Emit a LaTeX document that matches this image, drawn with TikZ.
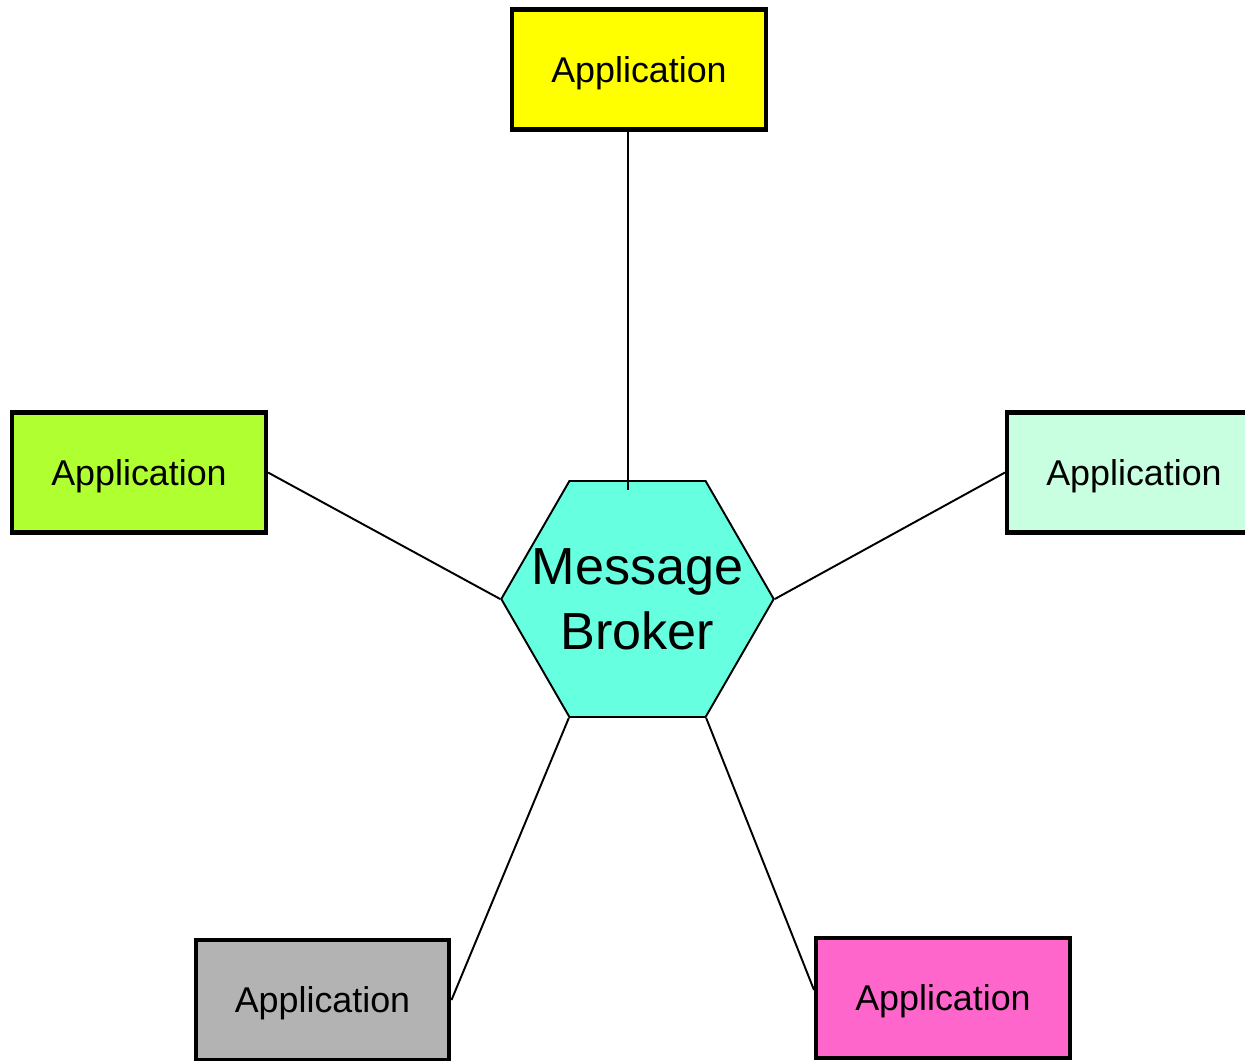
\documentclass[tikz,border=0pt]{standalone}
\usepackage{fontspec}
\setmainfont{Liberation Sans}
\usetikzlibrary{shapes.geometric}
\definecolor{appyellow}{HTML}{FFFF00}
\definecolor{appgreen}{HTML}{B0FF30}
\definecolor{appmint}{HTML}{C8FFE0}
\definecolor{appgray}{HTML}{B3B3B3}
\definecolor{apppink}{HTML}{FF66CC}
\definecolor{brokeraqua}{HTML}{66FFE0}
\begin{document}
\begin{tikzpicture}[
    x=0.02cm, y=-0.02cm,
    app/.style={rectangle, draw=black, line width=2.3pt, minimum width=5.08cm, minimum height=2.40cm, inner sep=0pt, text depth=0pt, font=\fontsize{20.4}{24}\selectfont},
    broker/.style={regular polygon, regular polygon sides=6, draw=black, line width=1.1pt, fill=brokeraqua, minimum size=5.45cm, inner sep=0pt},
    brokertext/.style={align=center, inner sep=0pt, font=\fontsize{29.7}{37}\selectfont},
    link/.style={draw=black, line width=1.1pt}
]
    \useasboundingbox (0,0) rectangle (1245,1061);

    % Broker
    \node[broker, label={[brokertext]center:Message\\Broker}] (hub) at (637.5,599) {};

    % Applications
    \node[app, fill=appyellow] (top) at (639,69.5) {Application};
    \node[app, fill=appgreen] (left) at (139,472.5) {Application};
    \node[app, fill=appmint] (right) at (1134,472.5) {Application};
    \node[app, fill=appgray] (botleft) at (322.5,1000) {Application};
    \node[app, fill=apppink] (botright) at (943,998) {Application};

    % Links
    \coordinate (tip) at (628,490);
    \draw[link] (top.south -| tip) -- (tip);
    \draw[link] (left.east) -- (hub.corner 3);
    \draw[link] (right.west) -- (hub.corner 6);
    \draw[link] (botleft.east) -- (hub.corner 4);
    \draw[link] ([yshift=0.16cm]botright.west) -- (hub.corner 5);
\end{tikzpicture}
\end{document}
